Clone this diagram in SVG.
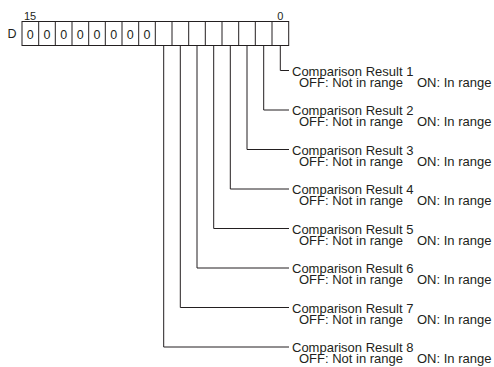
<svg xmlns="http://www.w3.org/2000/svg" width="494" height="367" viewBox="0 0 494 367">
<style>
text{font-family:"Liberation Sans",Arial,sans-serif;fill:#231f20}
.lbl{font-size:13px}
.bit{font-size:11px}
.reg{font-size:12.5px}
.ln{stroke:#231f20;stroke-width:1;fill:none}
</style>
<rect width="494" height="367" fill="#fff"/>
<g id="register">
<text class="bit" x="24" y="19.5">15</text>
<text class="bit" x="280.3" y="19.5" text-anchor="middle">0</text>
<text class="reg" x="7.5" y="38">D</text>
<rect class="ln" x="22" y="21.5" width="266.7" height="24"/>
<path class="ln" d="M38.7 21.5V45.5M55.3 21.5V45.5M72 21.5V45.5M88.7 21.5V45.5M105.3 21.5V45.5M122 21.5V45.5M138.7 21.5V45.5M155.3 21.5V45.5M172 21.5V45.5M188.7 21.5V45.5M205.3 21.5V45.5M222 21.5V45.5M238.7 21.5V45.5M255.3 21.5V45.5M272 21.5V45.5"/>
<g class="reg" text-anchor="middle">
<text x="30.3" y="38.5">0</text><text x="47" y="38.5">0</text><text x="63.7" y="38.5">0</text><text x="80.3" y="38.5">0</text>
<text x="97" y="38.5">0</text><text x="113.7" y="38.5">0</text><text x="130.3" y="38.5">0</text><text x="147" y="38.5">0</text>
</g>
</g>
<g id="connectors">
<path class="ln" d="M280.3 45.5V70.5H289"/>
<path class="ln" d="M263.7 45.5V110H289"/>
<path class="ln" d="M247 45.5V149.5H289"/>
<path class="ln" d="M230.3 45.5V189H289"/>
<path class="ln" d="M213.7 45.5V228.5H289"/>
<path class="ln" d="M197 45.5V268H289"/>
<path class="ln" d="M180.3 45.5V307.5H289"/>
<path class="ln" d="M163.7 45.5V347H289"/>
</g>
<g id="result1" class="lbl"><text x="292" y="75.5">Comparison Result 1</text><text y="86.5"><tspan x="299">OFF: Not in range</tspan><tspan x="417">ON: In range</tspan></text></g>
<g id="result2" class="lbl"><text x="292" y="115">Comparison Result 2</text><text y="126"><tspan x="299">OFF: Not in range</tspan><tspan x="417">ON: In range</tspan></text></g>
<g id="result3" class="lbl"><text x="292" y="154.5">Comparison Result 3</text><text y="165.5"><tspan x="299">OFF: Not in range</tspan><tspan x="417">ON: In range</tspan></text></g>
<g id="result4" class="lbl"><text x="292" y="194">Comparison Result 4</text><text y="205"><tspan x="299">OFF: Not in range</tspan><tspan x="417">ON: In range</tspan></text></g>
<g id="result5" class="lbl"><text x="292" y="233.5">Comparison Result 5</text><text y="244.5"><tspan x="299">OFF: Not in range</tspan><tspan x="417">ON: In range</tspan></text></g>
<g id="result6" class="lbl"><text x="292" y="273">Comparison Result 6</text><text y="284"><tspan x="299">OFF: Not in range</tspan><tspan x="417">ON: In range</tspan></text></g>
<g id="result7" class="lbl"><text x="292" y="312.5">Comparison Result 7</text><text y="323.5"><tspan x="299">OFF: Not in range</tspan><tspan x="417">ON: In range</tspan></text></g>
<g id="result8" class="lbl"><text x="292" y="352">Comparison Result 8</text><text y="363"><tspan x="299">OFF: Not in range</tspan><tspan x="417">ON: In range</tspan></text></g>
</svg>
